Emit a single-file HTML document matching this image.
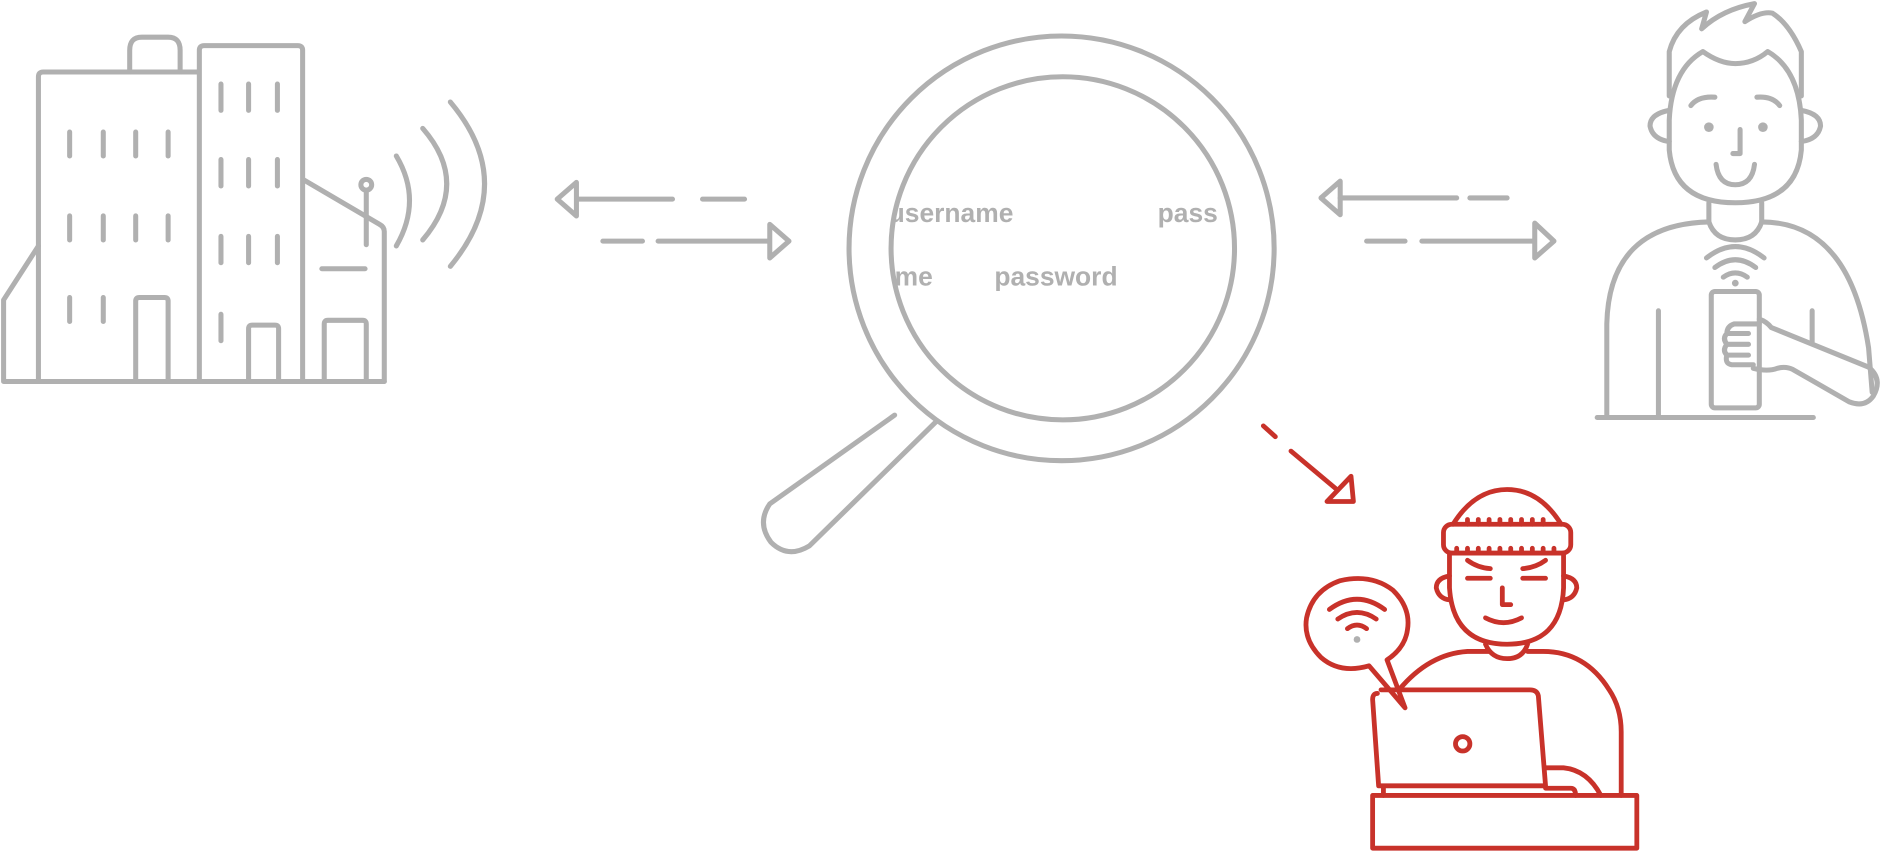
<!DOCTYPE html>
<html><head><meta charset="utf-8"><style>
html,body{margin:0;padding:0;background:#fff;}
svg{display:block;}
</style></head><body>
<svg width="1883" height="853" viewBox="0 0 1568 711" preserveAspectRatio="none" xmlns="http://www.w3.org/2000/svg">
<defs><clipPath id="lens"><circle cx="885" cy="207" r="142"/></clipPath></defs>
<g fill="none" stroke="#b0b0b0" stroke-width="4.2" stroke-linecap="round" stroke-linejoin="round">
<path d="M32,318 L32,64 Q32,60 36,60 L165,60"/>
<path d="M108,60 L108,42 Q108,31 118,31 L140,31 Q150,31 150,42 L150,60"/>
<path d="M32,205 L3,250 L3,318 L320,318"/>
<g>
<line x1="58" y1="110" x2="58" y2="130"/><line x1="86" y1="110" x2="86" y2="130"/><line x1="113" y1="110" x2="113" y2="130"/><line x1="140" y1="110" x2="140" y2="130"/>
<line x1="58" y1="180" x2="58" y2="200"/><line x1="86" y1="180" x2="86" y2="200"/><line x1="113" y1="180" x2="113" y2="200"/><line x1="140" y1="180" x2="140" y2="200"/>
<line x1="58" y1="248" x2="58" y2="268"/><line x1="86" y1="248" x2="86" y2="268"/>
</g>
<path d="M113,318 L113,251 Q113,248 116,248 L137,248 Q140,248 140,251 L140,318"/>
<path d="M166,318 L166,42 Q166,38 170,38 L248,38 Q252,38 252,42 L252,318"/>
<g>
<line x1="184" y1="70" x2="184" y2="92"/><line x1="207" y1="70" x2="207" y2="92"/><line x1="231" y1="70" x2="231" y2="92"/>
<line x1="184" y1="133" x2="184" y2="155"/><line x1="207" y1="133" x2="207" y2="155"/><line x1="231" y1="133" x2="231" y2="155"/>
<line x1="184" y1="197" x2="184" y2="219"/><line x1="207" y1="197" x2="207" y2="219"/><line x1="231" y1="197" x2="231" y2="219"/>
<line x1="184" y1="262" x2="184" y2="284"/>
</g>
<path d="M207,318 L207,274 Q207,271 210,271 L229,271 Q232,271 232,274 L232,318"/>
<path d="M253,150 L316,187 Q320,189 320,193 L320,318"/>
<line x1="305" y1="160" x2="305" y2="204"/>
<circle cx="305" cy="154" r="4.5"/>
<line x1="268" y1="224" x2="304" y2="224"/>
<path d="M270,318 L270,270 Q270,267 273,267 L302,267 Q305,267 305,270 L305,318"/>
<path d="M330,130 Q352,167 330,205"/>
<path d="M352,107 Q392,153 352,200"/>
<path d="M375,85 Q432,153 375,222"/>
<path d="M481,166 L560,166 M585,166 L620,166"/>
<path d="M480,152 L464,166 L480,180 Z"/>
<path d="M502,201 L535,201 M548,201 L640,201"/>
<path d="M641,187 L657,201 L641,215 Z"/>
<path d="M1116,165 L1213,165 M1224,165 L1255,165"/>
<path d="M1116,151 L1100,165 L1116,179 Z"/>
<path d="M1138,201 L1170,201 M1184,201 L1277,201"/>
<path d="M1278,186 L1294,201 L1278,215 Z"/>
<circle cx="884" cy="207" r="177"/>
<circle cx="885" cy="207" r="143"/>
<path d="M745,346 L641,420 Q630,436 642,452 Q656,466 674,455 L780,351"/>
<path d="M1390,80 L1390,43 Q1396,20 1421,10 L1417,24 Q1434,8 1461,3 L1453,18 Q1467,9 1476,11 Q1490,20 1500,43 L1500,80"/>
<path d="M1390,100 Q1392,58 1418,43 Q1432,53 1445,53 Q1460,53 1472,43 Q1498,58 1500,100 L1500,125 Q1496,169 1445,169 Q1394,169 1390,125 Z"/>
<path d="M1390,92 Q1374,95 1374,105 Q1376,116 1390,118"/>
<path d="M1500,92 Q1516,95 1516,105 Q1514,116 1500,118"/>
<path d="M1408,88 Q1414,80 1428,81 M1463,81 Q1476,80 1482,88"/>
<path d="M1449,108 L1449,128 L1443,128"/>
<path d="M1429,137 Q1431,154 1445,154 Q1459,154 1461,137"/>
<path d="M1423,169 L1423,185 Q1428,200 1445,200 Q1462,200 1467,185 L1467,169"/>
<path d="M1423,185 Q1340,187 1338,270 L1338,348 M1467,185 Q1540,185 1556,290 L1559,327"/>
<line x1="1381" y1="259" x2="1381" y2="348"/>
<line x1="1509" y1="259" x2="1509" y2="285"/>
<line x1="1330" y1="348" x2="1510" y2="348"/>
<path d="M1421,215 Q1445,196 1469,215 M1428,223 Q1445,210 1462,223 M1435,231 Q1445,224 1455,231"/>
<rect x="1425" y="243" width="40" height="97" rx="3"/>
<path d="M1465,266 Q1471,268 1475,273 L1556,306 Q1568,316 1560,330 Q1553,340 1540,335 L1493,308 Q1487,305 1480,307 Q1472,310 1460,307"/>
<path d="M1465,270 L1444,270 Q1438,272 1438,278 L1456,278 M1438,278 Q1434,282 1438,287 L1456,287 M1438,287 Q1434,292 1438,296 L1456,296 M1438,296 Q1436,303 1442,304 L1460,304"/>
</g>
<circle cx="1423" cy="106" r="4" fill="#b0b0b0"/>
<circle cx="1468" cy="106" r="4" fill="#b0b0b0"/>
<circle cx="1445" cy="236" r="2.8" fill="#b0b0b0"/>
<g clip-path="url(#lens)" font-family="Liberation Sans, sans-serif" font-size="22" font-weight="bold" fill="#b0b0b0">
<text x="740" y="185">username</text>
<text x="964" y="185">pass</text>
<text x="745" y="238">me</text>
<text x="828" y="238">password</text>
</g>
<g fill="none" stroke="#c8322a" stroke-width="4" stroke-linecap="round" stroke-linejoin="round">
<path d="M1052,355 L1062,364 M1075,376 L1112,407"/>
<path d="M1105,418 L1125,397 L1127,418 Z"/>
<path d="M1210,437 Q1228,408 1255,408 Q1282,408 1300,437"/>
<rect x="1202" y="437" width="106" height="24" rx="7"/>
<path d="M1222,433 v4 M1231,433 v4 M1240,433 v4 M1249,433 v4 M1258,433 v4 M1267,433 v4 M1276,433 v4 M1285,433 v4"/>
<path d="M1213,457 v4 M1222,457 v4 M1231,457 v4 M1240,457 v4 M1249,457 v4 M1258,457 v4 M1267,457 v4 M1276,457 v4 M1285,457 v4 M1294,457 v4"/>
<path d="M1207,461 L1207,490 Q1210,537 1255,537 Q1300,537 1302,490 L1302,461"/>
<path d="M1207,480 Q1196,482 1196,490 Q1198,499 1207,500 M1302,480 Q1313,482 1313,490 Q1311,499 1302,500"/>
<path d="M1222,467 Q1230,473 1241,474 M1268,474 Q1279,473 1287,467"/>
<path d="M1222,482 L1241,482 M1268,482 L1287,482"/>
<path d="M1251,490 L1251,504 L1258,504"/>
<path d="M1237,515 Q1252,523 1267,515"/>
<path d="M1237,537 Q1242,549 1255,549 Q1268,549 1272,537"/>
<path d="M1240,543 L1222,543 Q1190,545 1165,575 M1272,543 L1285,543 Q1320,543 1340,575 Q1350,590 1350,610 L1350,663"/>
<path d="M1147,578 Q1143,578 1143,583 L1148,655 L1287,655 L1281,580 Q1280,575 1274,575 L1150,575"/>
<circle cx="1218" cy="620" r="6"/>
<path d="M1152,657 L1152,663 M1287,657 L1308,657 Q1312,657 1312,663"/>
<path d="M1287,640 L1302,640 Q1322,642 1333,663"/>
<rect x="1143" y="663" width="220" height="44"/>
<path d="M1140,555 Q1116,562 1100,548 Q1085,533 1088,515 Q1093,492 1116,484 Q1142,478 1160,492 Q1175,507 1172,525 Q1170,540 1155,550 L1170,590 Z"/>
<path d="M1107,508 Q1130,491 1153,508 M1114,516 Q1130,505 1146,516 M1122,524 Q1130,518 1138,524"/>
</g>
<circle cx="1130" cy="533" r="2.8" fill="#b0b0b0"/>
</svg>
</body></html>
